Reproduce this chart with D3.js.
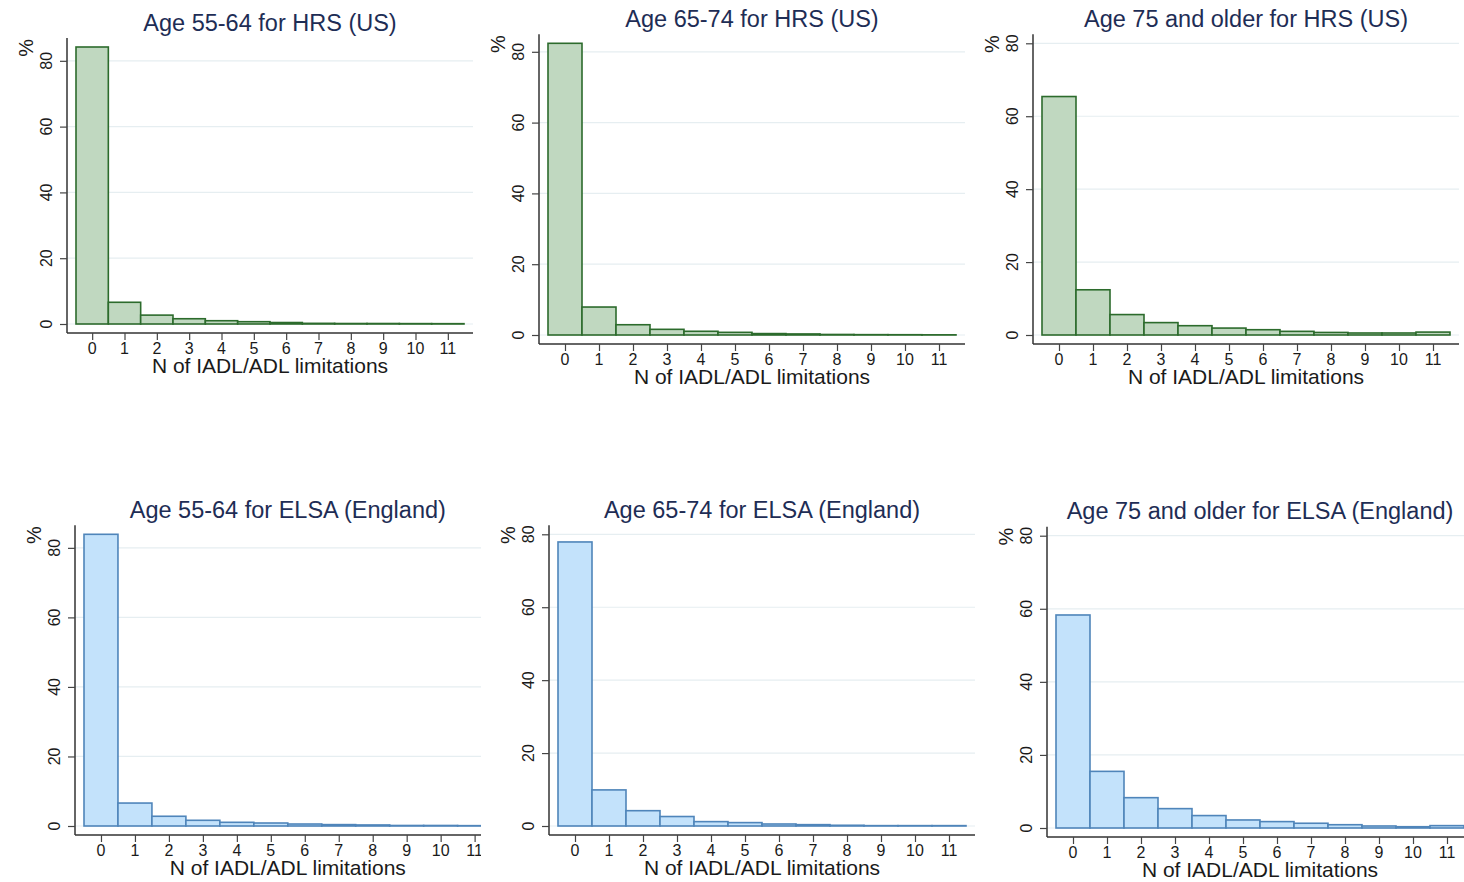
<!DOCTYPE html>
<html lang="en">
  <head>
    <meta charset="UTF-8" />
    <title>N of IADL/ADL limitations by age, HRS and ELSA</title>
    <script src="https://d3js.org/d3.v7.min.js"></script>
    <style>
      body {
        margin: 0;
        background: #ffffff;
        font-family: "Liberation Sans", Arial, sans-serif;
      }
      svg {
        display: block;
      }
      .title {
        font-size: 23.5px;
        fill: #1e2d55;
      }
      .tick-label {
        font-size: 16px;
        fill: #1a1a1a;
      }
      .axis-title {
        font-size: 21px;
        fill: #1a1a1a;
      }
      .pct {
        font-size: 20px;
        fill: #1a1a1a;
      }
    </style>
  </head>
  <body>
    <svg width="1464" height="882"></svg>
    <script>
      // Percent of respondents by number of IADL/ADL limitations (0..11)
      const limitations = [0, 1, 2, 3, 4, 5, 6, 7, 8, 9, 10, 11];
      const yTicks = [0, 20, 40, 60, 80];

      const hrs5564 = [84.2, 6.6, 2.7, 1.6, 1.0, 0.7, 0.45, 0.2, 0.15, 0.15, 0.12, 0.1];
      const hrs6574 = [82.4, 7.9, 2.9, 1.6, 1.05, 0.75, 0.4, 0.3, 0.15, 0.1, 0.08, 0.05];
      const hrs75 = [65.4, 12.4, 5.6, 3.4, 2.55, 1.9, 1.45, 1.0, 0.7, 0.55, 0.55, 0.8];
      const elsa5564 = [83.9, 6.6, 2.8, 1.64, 1.06, 0.86, 0.57, 0.4, 0.3, 0.15, 0.15, 0.1];
      const elsa6574 = [77.9, 9.9, 4.2, 2.6, 1.2, 0.93, 0.55, 0.37, 0.2, 0.1, 0.1, 0.1];
      const elsa75 = [58.3, 15.5, 8.3, 5.3, 3.4, 2.2, 1.75, 1.3, 0.9, 0.55, 0.35, 0.65];

      const titles = [
        "Age 55-64 for HRS (US)",
        "Age 65-74 for HRS (US)",
        "Age 75 and older for HRS (US)",
        "Age 55-64 for ELSA (England)",
        "Age 65-74 for ELSA (England)",
        "Age 75 and older for ELSA (England)",
      ];
      const xTitle = "N of IADL/ADL limitations";

      const green = { fill: "#c0d8c0", stroke: "#2c6b2c" };
      const blue = { fill: "#c3e2fb", stroke: "#4f85ba" };

      // plot regions (left = y axis, bottom = x axis)
      const panels = [
        { values: hrs5564, title: titles[0], col: green, left: 67, top: 38, right: 473, bottom: 333 },
        { values: hrs6574, title: titles[1], col: green, left: 539, top: 34.3, right: 965, bottom: 344 },
        { values: hrs75, title: titles[2], col: green, left: 1033, top: 34.3, right: 1459, bottom: 344 },
        { values: elsa5564, title: titles[3], col: blue, left: 75, top: 525.3, right: 500.6, bottom: 835, clip: 481 },
        { values: elsa6574, title: titles[4], col: blue, left: 549, top: 525.3, right: 975, bottom: 835 },
        { values: elsa75, title: titles[5], col: blue, left: 1047, top: 526.7, right: 1473, bottom: 837 },
      ];

      const svg = d3.select("svg");
      const pad = 9;

      panels.forEach((p, i) => {
        const g = svg.append("g");
        if (p.clip) {
          svg
            .append("clipPath")
            .attr("id", "clip" + i)
            .append("rect")
            .attr("x", 0)
            .attr("y", 0)
            .attr("width", p.clip)
            .attr("height", 882);
          g.attr("clip-path", `url(#clip${i})`);
        }

        const yMax = Math.max(80, d3.max(p.values));
        const x = d3
          .scaleLinear()
          .domain([-0.5, 11.5])
          .range([p.left + pad, p.right - pad]);
        const y = d3
          .scaleLinear()
          .domain([0, yMax])
          .range([p.bottom - pad, p.top + pad]);

        // grid lines
        g.selectAll(".grid")
          .data(yTicks)
          .enter()
          .append("line")
          .attr("x1", p.left)
          .attr("x2", p.right)
          .attr("y1", (d) => y(d))
          .attr("y2", (d) => y(d))
          .attr("stroke", "#e6eef1")
          .attr("stroke-width", 1.2);

        // bars
        const data = limitations.map((k, j) => ({ k: k, v: p.values[j] }));
        g.selectAll(".bar")
          .data(data)
          .enter()
          .append("rect")
          .attr("x", (d) => x(d.k - 0.5))
          .attr("y", (d) => y(d.v))
          .attr("width", (d) => x(d.k + 0.5) - x(d.k - 0.5))
          .attr("height", (d) => y(0) - y(d.v))
          .attr("fill", p.col.fill)
          .attr("stroke", p.col.stroke)
          .attr("stroke-width", 1.6);

        // y axis
        const ya = g
          .append("g")
          .attr("transform", `translate(${p.left},0)`)
          .call(d3.axisLeft(y).tickValues(yTicks).tickSize(7).tickSizeOuter(0).tickFormat(""));
        ya.select(".domain")
          .attr("d", `M0,${p.top}V${p.bottom}`)
          .attr("stroke", "#333")
          .attr("stroke-width", 1.5);
        ya.selectAll(".tick line").attr("stroke", "#444").attr("stroke-width", 1.2);

        g.selectAll(".ylab")
          .data(yTicks)
          .enter()
          .append("text")
          .attr("class", "tick-label")
          .attr("transform", (d) => `translate(${p.left - 15.5},${y(d)}) rotate(-90)`)
          .attr("text-anchor", "middle")
          .text((d) => d);

        g.append("text")
          .attr("class", "pct")
          .attr("transform", `translate(${p.left - 34.5},${p.top + 1}) rotate(-90)`)
          .attr("text-anchor", "end")
          .text("%");

        // x axis
        const xa = g
          .append("g")
          .attr("transform", `translate(0,${p.bottom})`)
          .call(d3.axisBottom(x).tickValues(limitations).tickSize(7).tickSizeOuter(0).tickFormat(""));
        xa.select(".domain")
          .attr("d", `M${p.left},0H${p.right}`)
          .attr("stroke", "#333")
          .attr("stroke-width", 1.5);
        xa.selectAll(".tick line").attr("stroke", "#444").attr("stroke-width", 1.2);

        g.selectAll(".xlab")
          .data(limitations)
          .enter()
          .append("text")
          .attr("class", "tick-label")
          .attr("x", (d) => x(d))
          .attr("y", p.bottom + 21)
          .attr("text-anchor", "middle")
          .text((d) => d);

        const cx = (p.left + p.right) / 2;
        g.append("text")
          .attr("class", "axis-title")
          .attr("x", cx)
          .attr("y", p.bottom + 40)
          .attr("text-anchor", "middle")
          .text(xTitle);

        g.append("text")
          .attr("class", "title")
          .attr("x", cx)
          .attr("y", p.top - 7.5)
          .attr("text-anchor", "middle")
          .text(p.title);
      });
    </script>
  </body>
</html>
